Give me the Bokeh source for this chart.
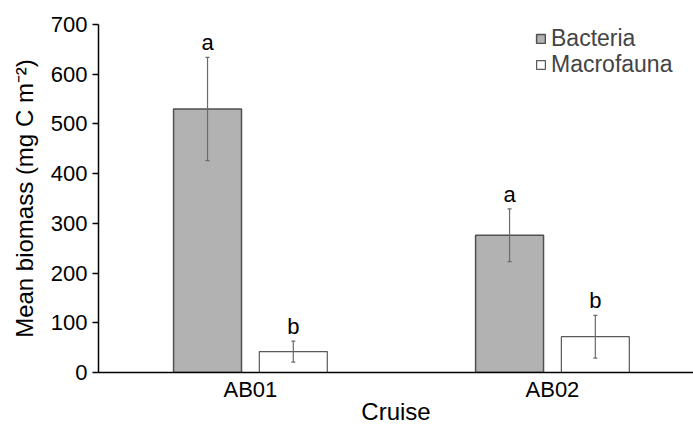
import numpy as np
from bokeh.plotting import figure
from bokeh.models import (ColumnDataSource, Range1d, FixedTicker, Whisker, TeeHead,
                          Legend, LegendItem, LabelSet)
from bokeh.core.properties import value
from bokeh.transform import dodge
from bokeh.embed import file_html
from bokeh.resources import INLINE

cruises = ["AB01", "AB02"]
bacteria = [530, 276]
bacteria_err = [104, 53]
macrofauna = [42, 72]
macrofauna_err = [21, 43]
bacteria_letters = ["a", "a"]
macrofauna_letters = ["b", "b"]
series_names = ["Bacteria", "Macrofauna"]

FONT = "Liberation Sans"
xpos = np.arange(len(cruises)) + 0.5

src_b = ColumnDataSource(dict(x=xpos, top=bacteria,
                              upper=np.array(bacteria) + np.array(bacteria_err),
                              lower=np.array(bacteria) - np.array(bacteria_err),
                              lab=bacteria_letters))
src_m = ColumnDataSource(dict(x=xpos, top=macrofauna,
                              upper=np.array(macrofauna) + np.array(macrofauna_err),
                              lower=np.array(macrofauna) - np.array(macrofauna_err),
                              lab=macrofauna_letters))

p = figure(width=693, height=427, output_backend="svg", toolbar_location=None,
           x_range=Range1d(-0.003, 1.967), y_range=Range1d(0, 700),
           min_border_left=98, min_border_top=24, min_border_bottom=55, min_border_right=0)
p.outline_line_color = None
p.grid.grid_line_color = None

off = 0.142
w = 0.225
rb = p.vbar(x=dodge("x", -off), top="top", width=w, source=src_b,
            fill_color="#b2b2b2", line_color="#505050", line_width=1.5)
rm = p.vbar(x=dodge("x", off), top="top", width=w, source=src_m,
            fill_color="white", line_color="#5a5a5a", line_width=1.2)

for src, d in ((src_b, -off), (src_m, off)):
    wk = Whisker(base=dodge("x", d), upper="upper", lower="lower", source=src,
                 line_color="#6a6a6a", line_width=1.2, level="overlay",
                 upper_head=TeeHead(size=4, line_color="#6a6a6a", line_width=1.2),
                 lower_head=TeeHead(size=4, line_color="#6a6a6a", line_width=1.2))
    p.add_layout(wk)
    ls = LabelSet(x=dodge("x", d), y="upper", text="lab", source=src,
                  text_align="center", text_baseline="bottom", y_offset=2,
                  text_font=value(FONT), text_font_size="22px", text_color="black")
    p.add_layout(ls)

# axes
p.yaxis.ticker = FixedTicker(ticks=list(range(0, 701, 100)))
p.yaxis.minor_tick_line_color = None
p.yaxis.major_tick_in = 0
p.yaxis.major_tick_out = 6
p.yaxis.axis_line_width = 1.5
p.yaxis.major_tick_line_width = 1.5
p.yaxis.major_label_text_font = FONT
p.yaxis.major_label_text_font_size = "22px"
p.yaxis.major_label_text_color = "black"
p.yaxis.major_label_standoff = 5
p.yaxis.axis_label = "Mean biomass (mg C m⁻²)"
p.yaxis.axis_label_text_font = FONT
p.yaxis.axis_label_text_font_size = "24px"
p.yaxis.axis_label_text_font_style = "normal"
p.yaxis.axis_label_text_color = "black"
p.yaxis.axis_label_standoff = 10

p.xaxis.ticker = FixedTicker(ticks=list(xpos))
p.xaxis.major_label_overrides = {float(x): c for x, c in zip(xpos, cruises)}
p.xaxis.major_tick_line_color = None
p.xaxis.minor_tick_line_color = None
p.xaxis.axis_line_width = 1.5
p.xaxis.major_label_text_font = FONT
p.xaxis.major_label_text_font_size = "22px"
p.xaxis.major_label_text_color = "black"
p.xaxis.major_label_standoff = -2
p.xaxis.axis_label = "Cruise"
p.xaxis.axis_label_text_font = FONT
p.xaxis.axis_label_text_font_size = "24px"
p.xaxis.axis_label_text_font_style = "normal"
p.xaxis.axis_label_text_color = "black"
p.xaxis.axis_label_standoff = -7

for name, r, ypos in ((series_names[0], rb, 320), (series_names[1], rm, 294)):
    lg = Legend(items=[LegendItem(label=name, renderers=[r])],
                location=(437, ypos), border_line_color=None, background_fill_alpha=0,
                glyph_width=11, glyph_height=11, label_standoff=5, spacing=0,
                label_text_font=FONT, label_text_font_size="23px",
                label_height=21, margin=0, padding=0)
    p.add_layout(lg)

open("out.html", "w").write(file_html(p, INLINE))
